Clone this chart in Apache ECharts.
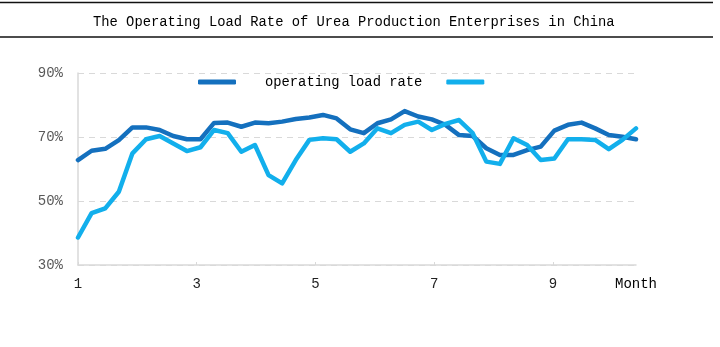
<!DOCTYPE html>
<html>
<head>
<meta charset="utf-8">
<script src="https://cdn.jsdelivr.net/npm/echarts@6/dist/echarts.min.js"></script>
<style>html,body{margin:0;padding:0;background:#fff}#c{width:720px;height:347px}</style>
</head>
<body>
<div id="c"></div>
<script>
const titleText = 'The Operating Load Rate of Urea Production Enterprises in China';
const xTicks = [1, 3, 5, 7, 9];
const yTicks = [30, 50, 70, 90];
const seriesNames = ['operating load rate', ' '];
const darkValues = [62.8, 65.7, 66.3, 69.0, 73.0, 73.0, 72.2, 70.3, 69.3, 69.3,
  74.4, 74.5, 73.2, 74.5, 74.3, 74.8, 75.6, 76.1, 76.9, 75.8,
  72.4, 71.2, 74.3, 75.5, 78.1, 76.4, 75.5, 73.8, 70.6, 70.3,
  66.5, 64.4, 64.4, 65.9, 67.0, 72.0, 73.8, 74.5, 72.7, 70.6,
  70.1, 69.3];
const lightValues = [38.6, 46.2, 47.7, 52.9, 64.9, 69.3, 70.3, 68.0, 65.6, 66.8,
  72.2, 71.2, 65.4, 67.5, 58.1, 55.5, 62.8, 69.1, 69.6, 69.3,
  65.4, 68.0, 72.7, 71.2, 73.8, 74.8, 72.2, 74.1, 75.3, 71.2,
  62.3, 61.6, 69.6, 67.5, 62.8, 63.3, 69.3, 69.3, 69.1, 66.2,
  69.1, 72.7];

const xMin = 1, xMax = 10.4;
const step = (xMax - xMin) / (darkValues.length - 1);
const toPairs = vals => vals.map((v, i) => [xMin + i * step, v]);

const chart = echarts.init(document.getElementById('c'), null, {renderer: 'canvas'});
const mono = 'Liberation Mono';
chart.setOption({
  animation: false,
  backgroundColor: '#fff',
  title: {
    text: titleText, left: 88, top: 10,
    textStyle: {fontFamily: mono, fontSize: 13.8, fontWeight: 'normal', color: '#000'}
  },
  graphic: [
    {type: 'line', shape: {x1: 0, y1: 2.5, x2: 713, y2: 2.5}, style: {stroke: '#111', lineWidth: 1.5}},
    {type: 'line', shape: {x1: 0, y1: 37, x2: 713, y2: 37}, style: {stroke: '#111', lineWidth: 1.5}}
  ],
  legend: {
    left: 193, top: 70,
    itemWidth: 38, itemHeight: 5, itemGap: 24,
    icon: 'roundRect',
    data: seriesNames,
    textStyle: {fontFamily: mono, fontSize: 13.8, color: '#000', padding: [0, 0, 0, 24]}
  },
  grid: {left: 78, right: 84, top: 73, bottom: 82},
  xAxis: {
    type: 'value', min: xMin, max: xMax,
    name: 'Month', nameLocation: 'end', nameGap: 0,
    nameTextStyle: {fontFamily: mono, fontSize: 14, color: '#000', align: 'center', verticalAlign: 'top', padding: [12, 0, 0, 0]},
    axisLine: {show: true, lineStyle: {color: '#d9d9d9', width: 1.5}},
    axisTick: {show: true, inside: true, length: 3, customValues: xTicks, lineStyle: {color: '#d9d9d9'}},
    axisLabel: {customValues: xTicks, margin: 12, fontFamily: mono, fontSize: 14, color: '#222'},
    splitLine: {show: false}
  },
  yAxis: {
    type: 'value', min: 30, max: 90, interval: 20,
    axisLine: {show: true, lineStyle: {color: '#d9d9d9', width: 1.5}},
    axisTick: {show: false},
    axisLabel: {formatter: '{value}%', margin: 15, fontFamily: mono, fontSize: 14, color: '#595959'},
    splitLine: {show: true, lineStyle: {color: '#d9d9d9', type: [6, 5], width: 1.2}}
  },
  series: [
    {name: seriesNames[0], type: 'line', data: toPairs(darkValues), showSymbol: false, symbol: 'none',
      itemStyle: {color: '#1470BE'}, lineStyle: {color: '#1470BE', width: 4.5, join: 'round', cap: 'round'}},
    {name: seriesNames[1], type: 'line', data: toPairs(lightValues), showSymbol: false, symbol: 'none',
      itemStyle: {color: '#12AFEC'}, lineStyle: {color: '#12AFEC', width: 4.5, join: 'round', cap: 'round'}}
  ]
});
</script>
</body>
</html>
